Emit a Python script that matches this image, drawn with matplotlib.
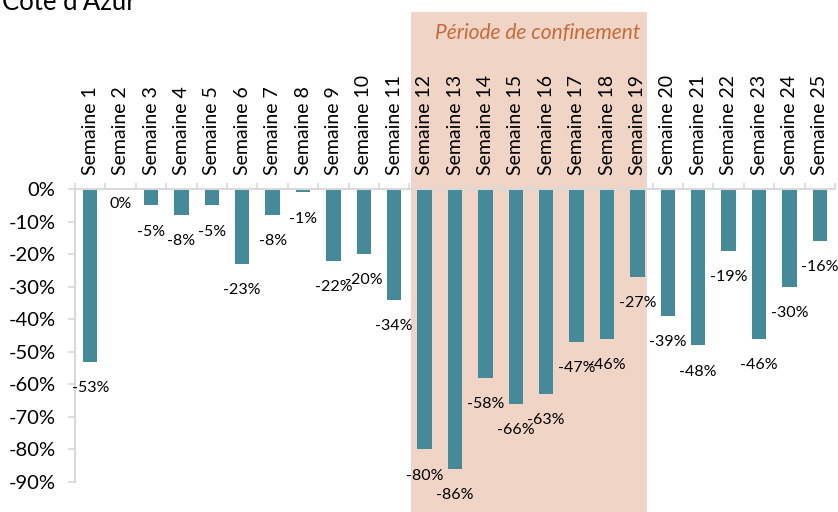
import matplotlib
matplotlib.use("Agg")
import matplotlib.pyplot as plt
import matplotlib.transforms as mtransforms
from matplotlib.patches import Rectangle
from matplotlib.ticker import FuncFormatter, FixedLocator
import numpy as np

plt.rcParams['font.family'] = ['Lato', 'DejaVu Sans']

title = "Côte d'Azur"
categories = [f"Semaine {i}" for i in range(1, 26)]
values = [-53, 0, -5, -8, -5, -23, -8, -1, -22, -20, -34, -80, -86, -58, -66,
          -63, -47, -46, -27, -39, -48, -19, -46, -30, -16]
value_labels = [f"{v}%" for v in values]
confinement_label = "Période de confinement"
confinement_span = (10.55, 18.32)  # in category units (Semaine 12 .. Semaine 19)
yticks = [0, -10, -20, -30, -40, -50, -60, -70, -80, -90]

bar_color = "#448A99"
shade_color = "#F0D5C6"
grid_gray = "#D9D9D9"

fig = plt.figure(figsize=(8.38, 5.12), dpi=100)
ax = fig.add_axes([75/838, 1-482/512, 760/838, (482-189)/512])
ax.patch.set_alpha(0)

x = np.arange(len(categories))
vals = np.array(values) / 100.0

ax.set_xlim(-0.5, len(categories)-0.5)
ax.set_ylim(-0.9, 0)

# shaded confinement period (x in data units, y in figure units)
trans = mtransforms.blended_transform_factory(ax.transData, fig.transFigure)
shade = Rectangle((confinement_span[0], -0.1), confinement_span[1]-confinement_span[0],
                  1 - 12/512 + 0.1, transform=trans, facecolor=shade_color,
                  edgecolor='none', clip_on=False)
shade.set_zorder(-1)
fig.add_artist(shade)
ax.annotate(confinement_label, (confinement_span[1], 1-33/512), xycoords=trans,
            xytext=(-5, 0), textcoords='offset points',
            style='italic', color="#C8693A", fontsize=15,
            ha='right', va='center', annotation_clip=False)

ax.bar(x, vals, width=0.48, color=bar_color, zorder=2)

for xi, v, lab in zip(x, vals, value_labels):
    off = -19 if v < 0 else -11
    ax.annotate(lab, (xi, v), xytext=(0, off), textcoords='offset points',
                ha='center', va='center', fontsize=11.5, color='black', zorder=3)

ax.xaxis.tick_top()
ax.set_xticks(x)
ax.set_xticklabels(categories, rotation=90, fontsize=14)
ax.tick_params(axis='x', which='major', length=0, pad=10)
ax.xaxis.set_minor_locator(FixedLocator(np.arange(-0.5, len(categories), 1.0)))
ax.tick_params(axis='x', which='minor', top=True, bottom=False, direction='out',
               length=4.5, color=grid_gray, width=1.2)

ax.set_yticks(np.array(yticks)/100.0)
ax.yaxis.set_major_formatter(FuncFormatter(lambda v, p: f"{round(v*100)}%"))
ax.tick_params(axis='y', length=5, color=grid_gray, width=1.2, labelsize=14.5, pad=9)

for s in ['right', 'bottom']:
    ax.spines[s].set_visible(False)
for s in ['top', 'left']:
    ax.spines[s].set_color(grid_gray)
    ax.spines[s].set_linewidth(1.5)
    ax.spines[s].set_zorder(2.5)

fig.text(2/838, 1-10/512, title, fontsize=18.5, ha='left', va='baseline')

fig.savefig("out.png", dpi=100)
